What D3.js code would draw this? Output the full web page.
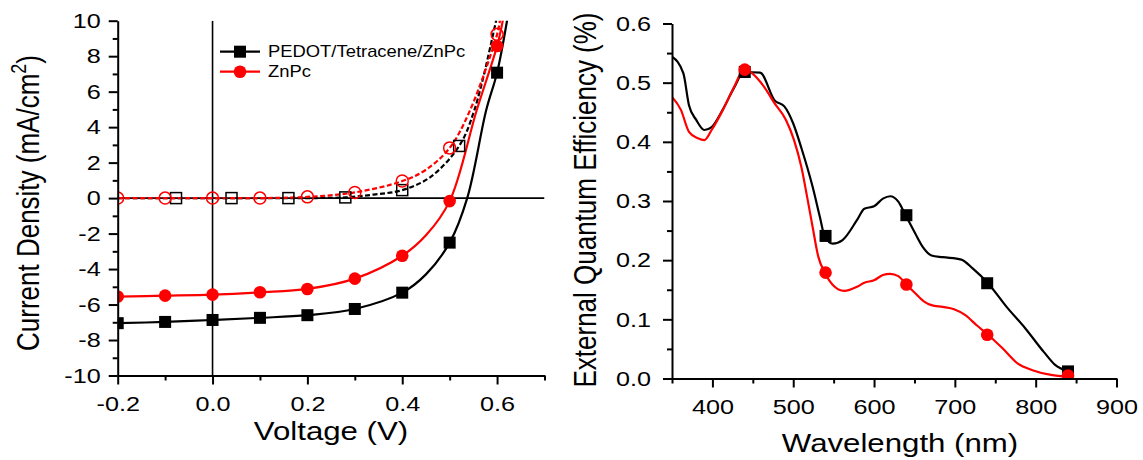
<!DOCTYPE html>
<html>
<head>
<meta charset="utf-8">
<script src="https://cdn.jsdelivr.net/npm/d3@7"></script>
<style>
  body { margin: 0; background: #fff; }
  svg { display: block; font-family: "Liberation Sans", Arial, sans-serif; }
</style>
</head>
<body>
<svg width="1143" height="460"></svg>
<script>
// ---- J-V panel (V, mA/cm2) ----
const jvVoltage = [-0.2, -0.1, 0, 0.1, 0.2, 0.3, 0.4, 0.5, 0.6];
const pedotLight = [-7.05, -6.98, -6.87, -6.75, -6.6, -6.25, -5.33, -2.51, 7.07];
const znpcLight = [-5.55, -5.5, -5.44, -5.31, -5.12, -4.54, -3.25, -0.17, 8.57];
const pedotDarkVoltage = [-0.077, 0.04, 0.16, 0.28, 0.4, 0.52];
const pedotDark = [0, 0, 0, 0.04, 0.45, 2.94];
const znpcDark = [0, 0, 0, 0, 0.07, 0.32, 0.96, 2.83, 9.23];

// extra points traced on the curves between / past the markers
const pedotLightExtra = [[0.45, -4.3], [0.537, 0], [0.577, 4.95], [0.621, 10], [0.63, 11.5]];
const znpcLightExtra = [[0.45, -2.1], [0.557, 4.95], [0.612, 10], [0.62, 11.3]];
const pedotDarkExtra = [[-0.2, 0], [0.34, 0.2], [0.46, 1.2], [0.552, 4.95], [0.598, 10], [0.61, 11.5]];
const znpcDarkExtra = [[0.45, 1.6], [0.543, 4.95], [0.606, 10], [0.615, 11.5]];

const jvXTicks = [-0.2, 0, 0.2, 0.4, 0.6];
const jvXMinor = [-0.1, 0.1, 0.3, 0.5, 0.7];
const jvYTicks = [-10, -8, -6, -4, -2, 0, 2, 4, 6, 8, 10];
const jvYMinor = [-9, -7, -5, -3, -1, 1, 3, 5, 7, 9];

// ---- EQE panel (nm, %) ----
const eqeMarkWl = [440, 540, 640, 740, 840];
const eqePedotMarks = [0.518, 0.241, 0.276, 0.161, 0.012];
const eqeZnpcMarks = [0.522, 0.179, 0.159, 0.074, 0.005];
const eqePedotCurve = [[350, 0.544], [364, 0.516], [371, 0.462], [380, 0.437], [390, 0.42], [399, 0.425],
  [413, 0.455], [427, 0.492], [439, 0.518], [459, 0.517], [477, 0.47], [489, 0.46], [500, 0.431],
  [510, 0.39], [524, 0.324], [533, 0.273], [539, 0.24], [549, 0.228], [561, 0.234], [579, 0.268],
  [588, 0.287], [600, 0.291], [611, 0.304], [620, 0.308], [630, 0.299], [639, 0.276], [651, 0.245],
  [660, 0.223], [671, 0.208], [685, 0.205], [708, 0.201], [722, 0.186], [741, 0.161], [764, 0.121],
  [787, 0.085], [810, 0.045], [824, 0.023], [840, 0.012]];
const eqeZnpcCurve = [[350, 0.476], [361, 0.454], [371, 0.417], [382, 0.406], [390, 0.403], [399, 0.42],
  [413, 0.454], [427, 0.493], [439, 0.522], [450, 0.515], [464, 0.493], [477, 0.465], [491, 0.437],
  [501, 0.403], [510, 0.358], [518, 0.301], [524, 0.256], [531, 0.206], [539, 0.179], [549, 0.158],
  [563, 0.148], [579, 0.155], [588, 0.162], [600, 0.166], [611, 0.175], [620, 0.177], [630, 0.173],
  [640, 0.159], [651, 0.144], [662, 0.13], [671, 0.124], [685, 0.121], [699, 0.117], [713, 0.107],
  [727, 0.09], [741, 0.074], [759, 0.051], [778, 0.025], [796, 0.014], [819, 0.006], [840, 0.003]];

const eqeXTicks = [400, 500, 600, 700, 800, 900];
const eqeXMinor = [350, 450, 550, 650, 750, 850];
const eqeYTicks = [0, 0.1, 0.2, 0.3, 0.4, 0.5, 0.6];
const eqeYMinor = [0.05, 0.15, 0.25, 0.35, 0.45, 0.55];

const RED = '#ff0000';
const SX = 1.2; // the picture is stretched a bit sideways

const svg = d3.select('svg');
svg.append('rect').attr('width', 1143).attr('height', 460).attr('fill', '#fff');

const zip = (xs, ys) => xs.map((x, i) => [x, ys[i]]);
const merge = (a, b) => a.concat(b).sort((p, q) => p[0] - q[0]);

var styleAxis = (g, sx) => {
  g.attr('font-size', 21).attr('font-family', null);
  g.selectAll('path, line').attr('stroke', '#000').attr('stroke-width', 2);
  g.selectAll('.tick text').each(function () {
    const t = d3.select(this);
    const x = +t.attr('x') || 0;
    t.attr('x', x / sx).attr('transform', `scale(${sx},1)`).attr('fill', '#000');
  });
}

var addText = (x, y, txt, size, rotate) => {
  return svg.append('text')
    .attr('transform', `translate(${x},${y}) scale(${SX},1)` + (rotate ? ' rotate(-90)' : ''))
    .attr('font-size', size)
    .attr('text-anchor', 'middle')
    .text(txt);
}

// ================= left: J-V =================
const x1 = d3.scaleLinear().domain([-0.2, 0.7]).range([117.7, 544.5]);
const y1 = d3.scaleLinear().domain([-10, 10]).range([375.5, 20.7]);

svg.append('clipPath').attr('id', 'clip1').append('rect')
  .attr('x', x1(-0.2)).attr('y', y1(10))
  .attr('width', x1(0.7) - x1(-0.2)).attr('height', y1(-10) - y1(10));

const p1 = svg.append('g').attr('clip-path', 'url(#clip1)');

p1.append('line').attr('x1', x1(-0.2)).attr('x2', x1(0.7)).attr('y1', y1(0)).attr('y2', y1(0))
  .attr('stroke', '#000').attr('stroke-width', 1.6);
p1.append('line').attr('x1', x1(0)).attr('x2', x1(0)).attr('y1', y1(10)).attr('y2', y1(-10))
  .attr('stroke', '#000').attr('stroke-width', 1.6);

const line1 = d3.line().x(d => x1(d[0])).y(d => y1(d[1])).curve(d3.curveCatmullRom.alpha(0.5));

const jvCurves = [
  { pts: merge(zip(pedotDarkVoltage, pedotDark), pedotDarkExtra), color: '#000', dash: '5,2.5' },
  { pts: merge(zip(jvVoltage, znpcDark), znpcDarkExtra), color: RED, dash: '5,2.5' },
  { pts: merge(zip(jvVoltage, pedotLight), pedotLightExtra), color: '#000', dash: null },
  { pts: merge(zip(jvVoltage, znpcLight), znpcLightExtra), color: RED, dash: null }
];

p1.selectAll('path.curve')
  .data(jvCurves)
  .enter()
  .append('path')
  .attr('class', 'curve')
  .attr('d', d => line1(d.pts))
  .attr('fill', 'none')
  .attr('stroke', d => d.color)
  .attr('stroke-width', 2.2)
  .attr('stroke-dasharray', d => d.dash);

// dark markers (open)
p1.selectAll('rect.pdark')
  .data(zip(pedotDarkVoltage, pedotDark))
  .enter()
  .append('rect')
  .attr('x', d => x1(d[0]) - 5.5)
  .attr('y', d => y1(d[1]) - 5.5)
  .attr('width', 11).attr('height', 11)
  .attr('fill', 'none').attr('stroke', '#000').attr('stroke-width', 1.5);

p1.selectAll('circle.zdark')
  .data(zip(jvVoltage, znpcDark))
  .enter()
  .append('circle')
  .attr('cx', d => x1(d[0]))
  .attr('cy', d => y1(d[1]))
  .attr('r', 6)
  .attr('fill', 'none').attr('stroke', RED).attr('stroke-width', 1.5);

// light markers (filled)
p1.selectAll('rect.plight')
  .data(zip(jvVoltage, pedotLight))
  .enter()
  .append('rect')
  .attr('x', d => x1(d[0]) - 6)
  .attr('y', d => y1(d[1]) - 6)
  .attr('width', 12).attr('height', 12)
  .attr('fill', '#000');

p1.selectAll('circle.zlight')
  .data(zip(jvVoltage, znpcLight))
  .enter()
  .append('circle')
  .attr('cx', d => x1(d[0]))
  .attr('cy', d => y1(d[1]))
  .attr('r', 6.3)
  .attr('fill', RED);

// axes
svg.append('g').attr('transform', `translate(0,${y1(-10)})`)
  .call(d3.axisBottom(x1).tickValues(jvXMinor).tickSize(5).tickFormat('').tickSizeOuter(0))
  .call(g => g.select('.domain').remove())
  .call(g => styleAxis(g, SX));
svg.append('g').attr('transform', `translate(0,${y1(-10)})`)
  .call(d3.axisBottom(x1).tickValues(jvXTicks).tickSize(9).tickPadding(12).tickSizeOuter(0)
    .tickFormat(d => d.toFixed(1)))
  .call(g => styleAxis(g, SX));

svg.append('g').attr('transform', `translate(${x1(-0.2)},0)`)
  .call(d3.axisLeft(y1).tickValues(jvYMinor).tickSize(5).tickFormat('').tickSizeOuter(0))
  .call(g => g.select('.domain').remove())
  .call(g => styleAxis(g, SX));
svg.append('g').attr('transform', `translate(${x1(-0.2)},0)`)
  .call(d3.axisLeft(y1).tickValues(jvYTicks).tickSize(9).tickPadding(8).tickSizeOuter(0)
    .tickFormat(d => String(d)))
  .call(g => styleAxis(g, SX));

addText(331, 440, 'Voltage (V)', 26, false);
const jTitle = addText(39, 203, 'Current Density (mA/cm', 26, true);
jTitle.append('tspan').attr('font-size', 18).attr('dy', -11).text('2');
jTitle.append('tspan').attr('dy', 11).text(')');

// legend
const legend = [
  { name: 'PEDOT/Tetracene/ZnPc', color: '#000', shape: 'square', y: 51.7 },
  { name: 'ZnPc', color: RED, shape: 'circle', y: 71.7 }
];
legend.forEach(l => {
  svg.append('line').attr('x1', 220).attr('x2', 260).attr('y1', l.y).attr('y2', l.y)
    .attr('stroke', l.color).attr('stroke-width', 2.2);
  if (l.shape === 'square') {
    svg.append('rect').attr('x', 240 - 6).attr('y', l.y - 6).attr('width', 12).attr('height', 12)
      .attr('fill', l.color);
  } else {
    svg.append('circle').attr('cx', 240).attr('cy', l.y).attr('r', 6.3).attr('fill', l.color);
  }
  svg.append('text')
    .attr('transform', `translate(268,${l.y + 5}) scale(1.15,1)`)
    .attr('font-size', 16)
    .text(l.name);
});

// ================= right: EQE =================
const x2 = d3.scaleLinear().domain([350, 900]).range([672, 1116.5]);
const y2 = d3.scaleLinear().domain([0, 0.6]).range([378.5, 23.5]);

svg.append('clipPath').attr('id', 'clip2').append('rect')
  .attr('x', x2(350)).attr('y', y2(0.6))
  .attr('width', x2(900) - x2(350)).attr('height', y2(0) - y2(0.6));

const p2 = svg.append('g').attr('clip-path', 'url(#clip2)');
const line2 = d3.line().x(d => x2(d[0])).y(d => y2(d[1])).curve(d3.curveMonotoneX);

p2.append('path').attr('d', line2(eqePedotCurve))
  .attr('fill', 'none').attr('stroke', '#000').attr('stroke-width', 2.2);
p2.append('path').attr('d', line2(eqeZnpcCurve))
  .attr('fill', 'none').attr('stroke', RED).attr('stroke-width', 2.2);

p2.selectAll('rect.pm')
  .data(zip(eqeMarkWl, eqePedotMarks))
  .enter()
  .append('rect')
  .attr('x', d => x2(d[0]) - 6)
  .attr('y', d => y2(d[1]) - 6)
  .attr('width', 12).attr('height', 12)
  .attr('fill', '#000');

p2.selectAll('circle.zm')
  .data(zip(eqeMarkWl, eqeZnpcMarks))
  .enter()
  .append('circle')
  .attr('cx', d => x2(d[0]))
  .attr('cy', d => y2(d[1]))
  .attr('r', 6.3)
  .attr('fill', RED);

svg.append('g').attr('transform', `translate(0,${y2(0)})`)
  .call(d3.axisBottom(x2).tickValues(eqeXMinor).tickSize(5).tickFormat('').tickSizeOuter(0))
  .call(g => g.select('.domain').remove())
  .call(g => styleAxis(g, SX));
svg.append('g').attr('transform', `translate(0,${y2(0)})`)
  .call(d3.axisBottom(x2).tickValues(eqeXTicks).tickSize(9).tickPadding(12).tickSizeOuter(0)
    .tickFormat(d => String(d)))
  .call(g => styleAxis(g, SX));

svg.append('g').attr('transform', `translate(${x2(350)},0)`)
  .call(d3.axisLeft(y2).tickValues(eqeYMinor).tickSize(5).tickFormat('').tickSizeOuter(0))
  .call(g => g.select('.domain').remove())
  .call(g => styleAxis(g, SX));
svg.append('g').attr('transform', `translate(${x2(350)},0)`)
  .call(d3.axisLeft(y2).tickValues(eqeYTicks).tickSize(9).tickPadding(12).tickSizeOuter(0)
    .tickFormat(d3.format('.1f')))
  .call(g => styleAxis(g, SX));

addText(900, 452, 'Wavelength (nm)', 26, false);
addText(595.5, 200, 'External Quantum Efficiency (%)', 26, true);
</script>
</body>
</html>
